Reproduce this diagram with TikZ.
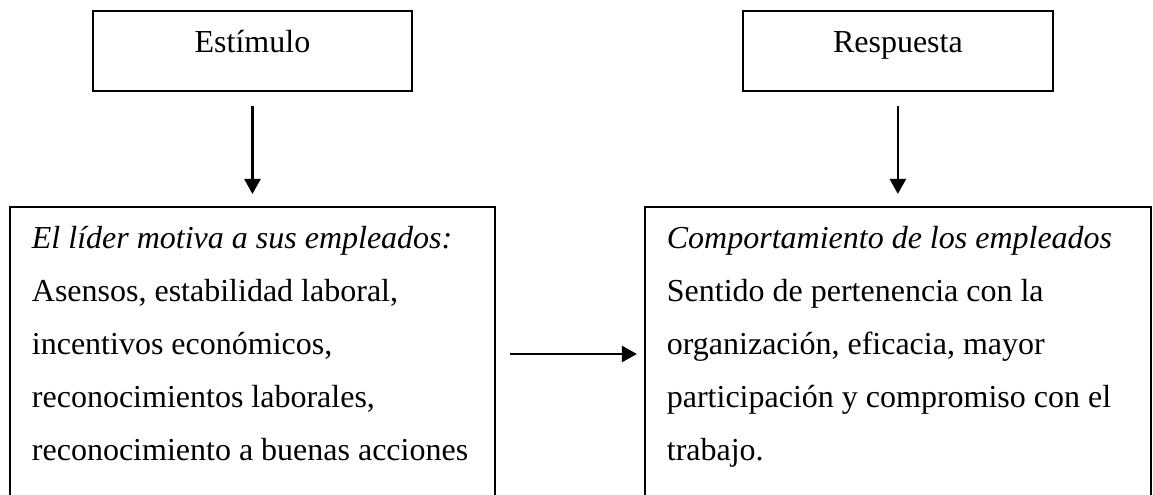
\documentclass[tikz,border=0pt]{standalone}
\usepackage{fontspec}
\setmainfont{Liberation Serif}
\usetikzlibrary{positioning, arrows.meta}

\begin{document}
\begin{tikzpicture}[x=0.375pt,y=-0.375pt,
    every node/.style={inner sep=0,outer sep=0,font=\fontsize{12}{19.9}\selectfont},
    titulo/.style={draw,line width=0.6pt,align=center,text depth=14.6pt},
    caja/.style={draw,line width=0.6pt,inner xsep=8.25pt,align=flush left,text depth=100pt},
    flecha/.style={line width=0.9pt,-{Triangle[length=5.6pt,width=6pt]}}]
      \path[use as bounding box,clip](0,0) rectangle (1153,495);

      \node(est)[titulo,text width=119.6pt,anchor=north west] at (93,11){\rule{0pt}{15.4pt}Estímulo};
      \node(resp)[titulo,text width=116.25pt,right=124.1pt of est]{\rule{0pt}{15.4pt}Respuesta};

      \node(lider)[caja,text width=165.4pt,below=43.5pt of est]{\rule{0pt}{15.4pt}\textit{El líder motiva a sus empleados:}\\
        Asensos, estabilidad laboral,\\
        incentivos económicos,\\
        reconocimientos laborales,\\
        reconocimiento a buenas acciones};
      \node(comp)[caja,text width=173.25pt,below=43.5pt of resp]{\rule{0pt}{15.4pt}\textit{Comportamiento de los empleados}\\
        Sentido de pertenencia con la\\
        organización, eficacia, mayor\\
        participación y compromiso con el\\
        trabajo.};

      \coordinate(medio) at (0,354);
      \draw[flecha,shorten <=5.6pt,shorten >=4.9pt](est)--(lider);
      \draw[flecha,shorten <=5.6pt,shorten >=4.9pt](resp)--(comp);
      \draw[flecha,shorten <=5.6pt,shorten >=3pt](lider.east |- medio)--(comp.west |- medio);
    \end{tikzpicture}
\end{document}
